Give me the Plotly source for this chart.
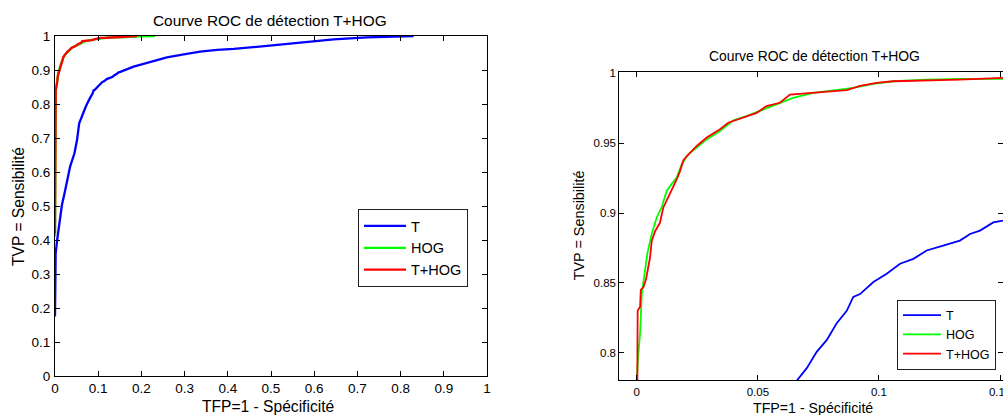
import plotly.graph_objects as go

# ---- data ----
T_fpr = [0, 0.0015, 0.005, 0.012, 0.016, 0.022, 0.028, 0.035, 0.045, 0.051, 0.056, 0.0663, 0.0702,
         0.0743, 0.0784, 0.0825, 0.0867, 0.0894, 0.0922, 0.0977, 0.1032, 0.1087, 0.1142, 0.1197, 0.1265,
         0.1334, 0.1376, 0.1417, 0.1472, 0.1512, 0.182, 0.221, 0.259, 0.298, 0.336, 0.375, 0.414, 0.491,
         0.568, 0.645, 0.722, 0.80, 0.83]
T_tpr = [0.175, 0.36, 0.40, 0.46, 0.503, 0.537, 0.576, 0.616, 0.655, 0.694, 0.743, 0.7805, 0.789,
         0.8007, 0.809, 0.821, 0.830, 0.840, 0.842, 0.8506, 0.8565, 0.8637, 0.8672, 0.8732, 0.8767,
         0.8803, 0.885, 0.8874, 0.8933, 0.8945, 0.91, 0.924, 0.937, 0.946, 0.954, 0.959, 0.962, 0.971,
         0.981, 0.990, 0.996, 0.999, 1.0]

HOG_fpr = [0, 0, 0.0007, 0.0014, 0.0021, 0.0034, 0.0044, 0.0062, 0.0083, 0.0103, 0.0124, 0.0144,
           0.0165, 0.0186, 0.0213, 0.0248, 0.0289, 0.0344, 0.0399, 0.0454, 0.0509, 0.0578, 0.0646,
           0.0729, 0.0812, 0.0894, 0.0977, 0.1059, 0.1197, 0.1334, 0.1512, 0.20, 0.232]
HOG_tpr = [0.41, 0.7805, 0.7995, 0.814, 0.842, 0.8565, 0.871, 0.885, 0.897, 0.904, 0.916, 0.9207,
           0.9254, 0.9349, 0.942, 0.9468, 0.9527, 0.9587, 0.9663, 0.9694, 0.973, 0.9777, 0.9824,
           0.986, 0.9879, 0.9895, 0.9924, 0.9943, 0.9955, 0.996, 0.996, 0.999, 1.0]

THOG_fpr = [0, 0, 0.0003, 0.0004, 0.0014, 0.0017, 0.0028, 0.0039, 0.0045, 0.0055, 0.0062, 0.0076,
            0.0096, 0.011, 0.0124, 0.0144, 0.0165, 0.0179, 0.0193, 0.022, 0.0248, 0.0289, 0.0344,
            0.0378, 0.044, 0.0495, 0.0536, 0.0591, 0.0633, 0.0715, 0.0784, 0.0867, 0.0922, 0.099,
            0.1059, 0.1197, 0.1334, 0.1512, 0.17, 0.19]
THOG_tpr = [0.42, 0.7805, 0.7995, 0.830, 0.833, 0.845, 0.847, 0.853, 0.859, 0.868, 0.880, 0.887,
            0.893, 0.904, 0.909, 0.916, 0.924, 0.930, 0.938, 0.943, 0.948, 0.954, 0.960, 0.9646,
            0.9686, 0.9717, 0.9765, 0.9789, 0.9848, 0.986, 0.9872, 0.9879, 0.991, 0.9931, 0.9943,
            0.9948, 0.9955, 0.9967, 0.999, 1.0]

series_names = ["T", "HOG", "T+HOG"]
title_text = "Courve ROC de détection T+HOG"
xlabel = "TFP=1 - Spécificité"
ylabel = "TVP = Sensibilité"
left_ticks = [0, 0.1, 0.2, 0.3, 0.4, 0.5, 0.6, 0.7, 0.8, 0.9, 1]
left_ticklabels = ["0", "0.1", "0.2", "0.3", "0.4", "0.5", "0.6", "0.7", "0.8", "0.9", "1"]
right_xticks = [0, 0.05, 0.1, 0.15]
right_xticklabels = ["0", "0.05", "0.1", "0.15"]
right_yticks = [0.8, 0.85, 0.9, 0.95, 1]
right_yticklabels = ["0.8", "0.85", "0.9", "0.95", "1"]

colors = ["#0000FF", "#00FF00", "#FF0000"]
W, H = 1003, 415
FONT = "Arial, Liberation Sans, sans-serif"


def px_x(p):
    return p / W


def px_y(p):
    return 1 - p / H


fig = go.Figure()
data = [(T_fpr, T_tpr), (HOG_fpr, HOG_tpr), (THOG_fpr, THOG_tpr)]
for (xs, ys), name, c in zip(data, series_names, colors):
    fig.add_trace(go.Scatter(x=xs, y=ys, mode="lines", name=name, line=dict(color=c, width=2.3),
                             xaxis="x", yaxis="y", legend="legend"))
for (xs, ys), name, c in zip(data, series_names, colors):
    fig.add_trace(go.Scatter(x=xs, y=ys, mode="lines", name=name, line=dict(color=c, width=1.8),
                             xaxis="x2", yaxis="y2", legend="legend2"))

axis_common = dict(showgrid=False, zeroline=False, showline=True, linecolor="#000", linewidth=1,
                   mirror="allticks", ticks="inside", ticklen=5, tickcolor="#000",
                   ticklabeloverflow="allow", automargin=False)

fig.update_layout(
    width=W, height=H, margin=dict(l=0, r=0, t=0, b=0, pad=0, autoexpand=False),
    paper_bgcolor="white", plot_bgcolor="white",
    font=dict(family=FONT, color="#000"),
    xaxis=dict(domain=[px_x(55), px_x(487)], range=[0, 1], tickvals=left_ticks, ticktext=left_ticklabels,
               anchor="y", tickfont=dict(family=FONT, size=13.5, color="#000"), ticklabelstandoff=0,
               **axis_common),
    yaxis=dict(domain=[px_y(376), px_y(36)], range=[0, 1], tickvals=left_ticks, ticktext=left_ticklabels,
               anchor="x", tickfont=dict(family=FONT, size=13.5, color="#000"), ticklabelstandoff=1,
               **axis_common),
    xaxis2=dict(domain=[px_x(619.3), 1], range=[-0.00718, 0.1512], tickvals=right_xticks,
                ticktext=right_xticklabels, anchor="y2", ticklabelstandoff=1,
                tickfont=dict(family=FONT, size=11.5, color="#000"), **axis_common),
    yaxis2=dict(domain=[px_y(380.3), px_y(72.3)], range=[0.7803, 1.0007], tickvals=right_yticks,
                ticktext=right_yticklabels, anchor="x2", ticklabelstandoff=0,
                tickfont=dict(family=FONT, size=11.5, color="#000"), **axis_common),
    legend=dict(x=px_x(358), y=px_y(248), xanchor="left", yanchor="middle", bordercolor="#222",
                borderwidth=1, bgcolor="white", font=dict(family=FONT, size=14.5, color="#000"),
                tracegroupgap=0, itemwidth=42),
    legend2=dict(x=px_x(897), y=px_y(334.5), xanchor="left", yanchor="middle", bordercolor="#222",
                 borderwidth=1, bgcolor="white", font=dict(family=FONT, size=12.5, color="#000"),
                 tracegroupgap=0, itemwidth=38),
    showlegend=True,
)

annots = [
    (title_text, 270, 20, 15.4, 0),
    (title_text, 814, 56, 13.9, 0),
    (xlabel, 268, 406, 15.6, 0),
    (xlabel, 813, 407.7, 14.2, 0),
    (ylabel, 18.3, 206.7, 15.6, -90),
    (ylabel, 579.3, 225, 14.4, -90),
]
for text, x, y, size, ang in annots:
    fig.add_annotation(text=text, x=px_x(x), y=px_y(y), xref="paper", yref="paper",
                       xanchor="center", yanchor="middle", showarrow=False, textangle=ang,
                       font=dict(family=FONT, size=size, color="#000"))

fig.write_html(
    "out.html", config={"displayModeBar": False},
    post_script=("document.documentElement.style.overflow='hidden';"
                 "document.body.style.margin='0';document.body.style.overflow='hidden';"
                 "var d=document.getElementById('{plot_id}');d.style.overflow='hidden';"),
)
